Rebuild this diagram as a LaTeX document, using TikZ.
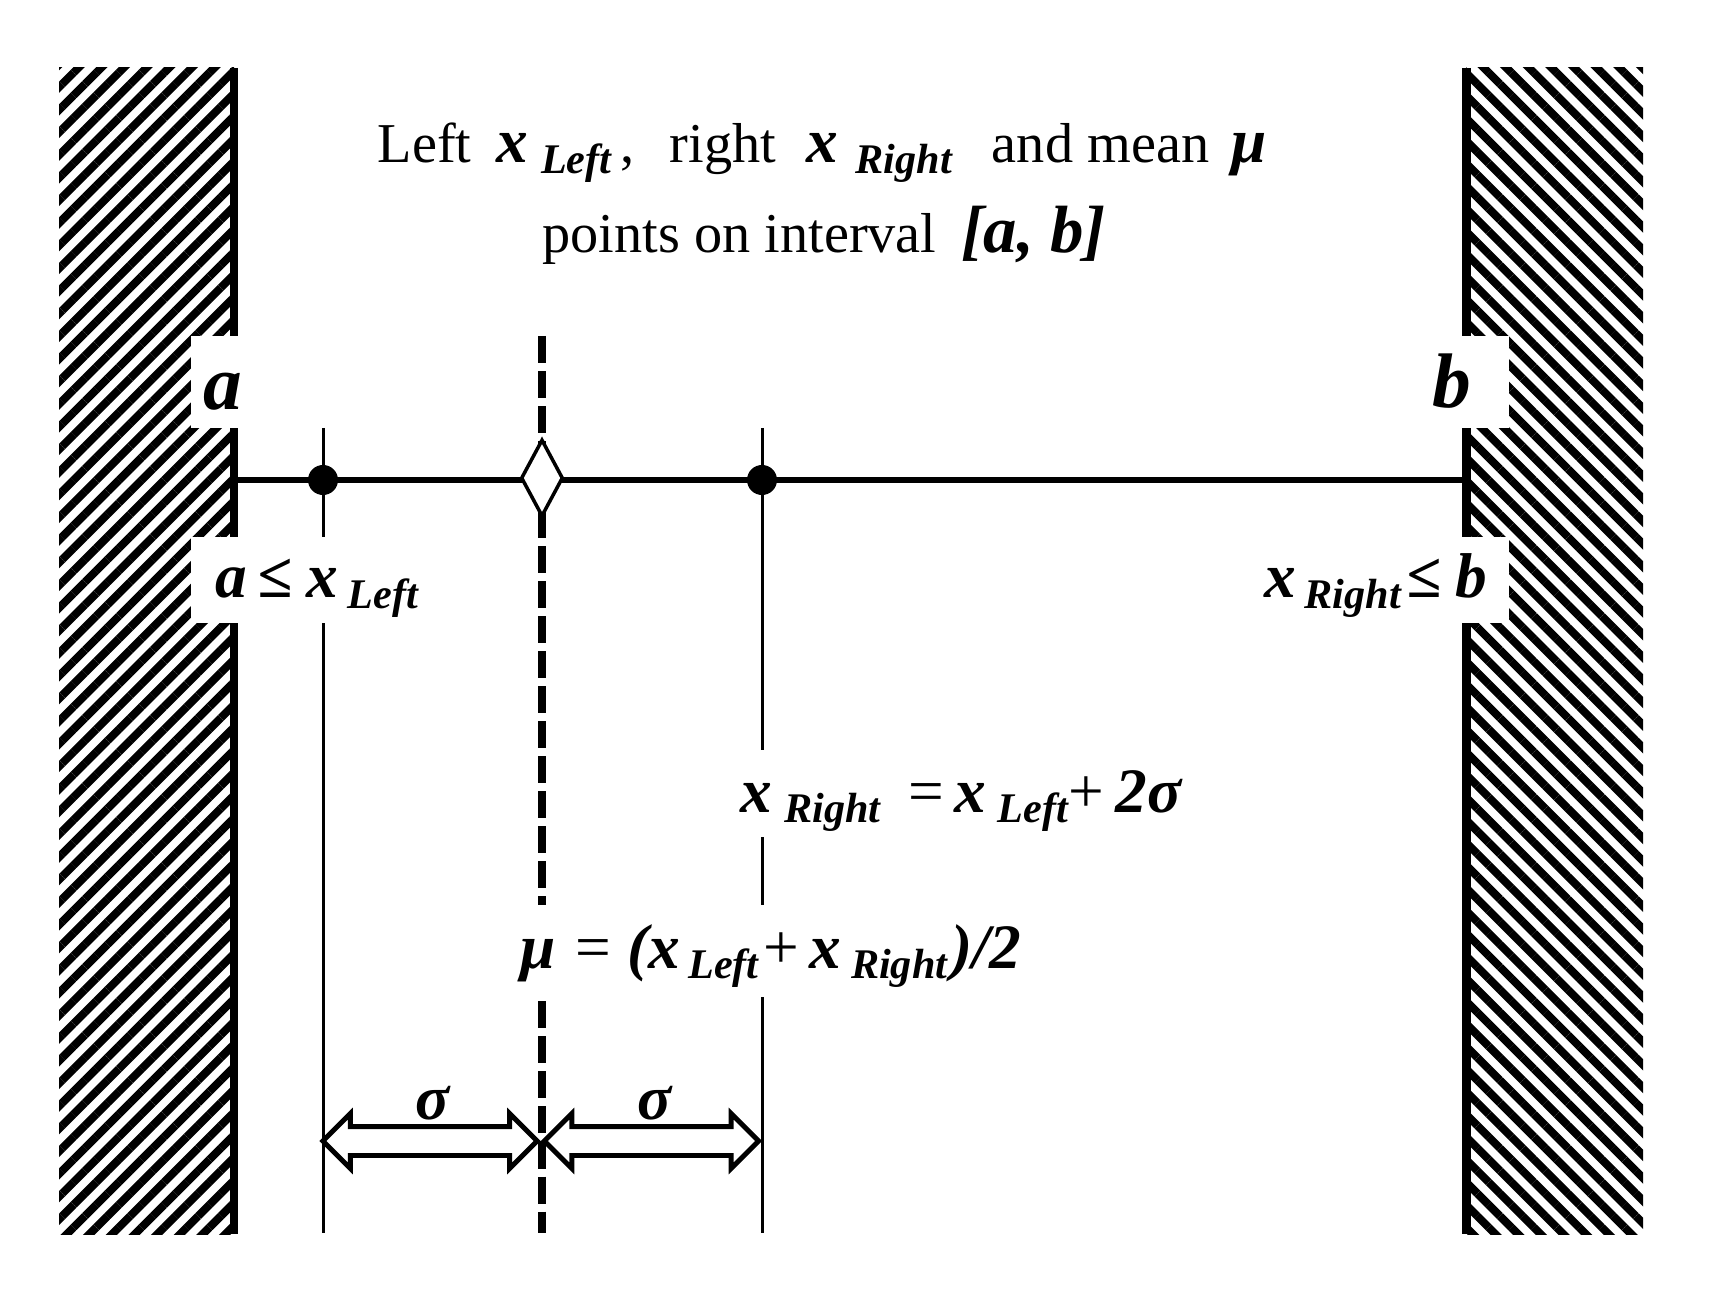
\documentclass[tikz,border=0pt]{standalone}
\usepackage{fontspec}
\setmainfont{Liberation Serif}
\usepackage{tikz}
\usetikzlibrary{positioning, calc, patterns.meta, shapes.geometric, shapes.arrows}
\newcommand{\vbl}[1]{{\fontsize{18}{20}\selectfont\bfseries\itshape #1}}
\newcommand{\bigvbl}[1]{{\fontsize{22}{24}\selectfont\bfseries\itshape #1}}
\newcommand{\idx}[1]{\raisebox{-3pt}{\fontsize{12}{12}\selectfont\bfseries\itshape #1}}
\newcommand{\op}[1]{{\fontsize{18}{20}\selectfont #1}}
\newcommand{\gap}[1]{\hspace{#1cm}}
\tikzset{
	x=0.01cm, y=-0.01cm,
	axisline/.style={line width=1.6pt},
	vline/.style={line width=0.85pt},
	meanline/.style={line width=2pt, dash pattern=on 0.27cm off 0.08cm},
	wallline/.style={line width=2.55pt},
	lbl/.style={fill=white, inner ysep=0pt, inner xsep=0.1cm},
	title/.style={inner sep=0pt, font=\fontsize{16}{20}\selectfont},
	dot/.style={circle, fill, inner sep=0pt, minimum size=0.3cm},
	meandot/.style={diamond, draw, fill=white, line width=1pt, inner sep=0pt,
		minimum width=0.42cm, minimum height=0.77cm},
	sigarrow/.style={double arrow, draw, line width=1.4pt, fill=white, inner xsep=0pt,
		inner ysep=0.12cm, double arrow head extend=0.13cm, minimum height=2.14cm}
}

\begin{document}
\begin{tikzpicture}
	\useasboundingbox (0,0) rectangle (1719,1301);

%	walls
	\pattern[pattern={Lines[angle=45, distance=0.16cm, line width=0.08cm]}] (59,68) rectangle (234,1234);
	\pattern[pattern={Lines[angle=-45, distance=0.16cm, line width=0.08cm]}] (1466,68) rectangle (1643,1234);
	\draw[wallline] (234,68) -- (234,1234);
	\draw[wallline] (1466,68) -- (1466,1234);

%	points on the interval
	\coordinate (a) at (234,480);
	\coordinate (b) at (1466,480);
	\coordinate (xl) at (323,480);
	\coordinate (mu) at (542,480);
	\coordinate (xr) at (762,480);

	\draw[vline] (323,428) -- (323,1233);
	\draw[vline] (762,428) -- (762,1233);
	\draw[meanline] (542,336) -- (542,1233);
	\draw[axisline] (a) -- (b);

	\node[dot] (xldot) at (xl) {};
	\node[dot] (xrdot) at (xr) {};
	\node[meandot] (mudot) at (542,478) {};

%	labels
	\node[title, anchor=base west] (title1) at (377,163)
		{Left\gap{0.25}\vbl{x}\gap{0.13}\idx{Left}\,,\gap{0.35}right\gap{0.3}\vbl{x}\gap{0.18}\idx{Right}\gap{0.4}and mean\gap{0.22}\vbl{μ}};
	\node[title, anchor=base west] (title2) at (542,253)
		{points on interval\gap{0.25}{\fontsize{19}{20}\selectfont\bfseries\itshape [a, b]}};

	\node[lbl, anchor=base west, inner xsep=0.13cm, text height=0.74cm, text depth=0.18cm] (alab) at (190,410) {\bigvbl{a}};
	\node[lbl, anchor=base east, inner xsep=0.38cm, text height=0.72cm, text depth=0.20cm] (blab) at (1510,408) {\bigvbl{b}};
	\node[lbl, anchor=base west, inner xsep=0.25cm, text height=0.61cm, text depth=0.25cm] (albl) at (190,598)
		{\vbl{a}\gap{0.1}\vbl{≤}\gap{0.14}\vbl{x}\gap{0.1}\idx{Left}};
	\node[lbl, anchor=base east, inner xsep=0.22cm, text height=0.61cm, text depth=0.25cm] (brbl) at (1510,598)
		{\vbl{x}\gap{0.09}\idx{Right}\gap{0.06}\vbl{≤}\gap{0.14}\vbl{b}};

	\node[lbl, anchor=base west, text height=0.62cm, text depth=0.25cm] (xreq) at (730,812)
		{\vbl{x}\gap{0.12}\idx{Right}\gap{0.28}\op{=}\gap{0.1}\vbl{x}\gap{0.12}\idx{Left}\op{+}\gap{0.12}\vbl{2σ}};
	\node[lbl, anchor=base west, text height=0.63cm, text depth=0.29cm] (mueq) at (510,968)
		{\vbl{μ}\gap{0.2}\op{=}\gap{0.16}\vbl{(x}\gap{0.08}\idx{Left}\gap{0.05}\op{+}\gap{0.1}\vbl{x}\gap{0.1}\idx{Right}\gap{0.04}\vbl{)/2}};

%	sigma distances
	\coordinate (sl) at (323,1141);
	\coordinate (sm1) at (537,1141);
	\coordinate (sm2) at (545,1141);
	\coordinate (sr) at (758,1141);
	\node[sigarrow] (sig1) at ($(sl)!0.5!(sm1)$) {};
	\node[sigarrow] (sig2) at ($(sm2)!0.5!(sr)$) {};
	\node (sig1lbl) at (433,1103) {\vbl{σ}};
	\node (sig2lbl) at (655,1103) {\vbl{σ}};
\end{tikzpicture}
\end{document}
